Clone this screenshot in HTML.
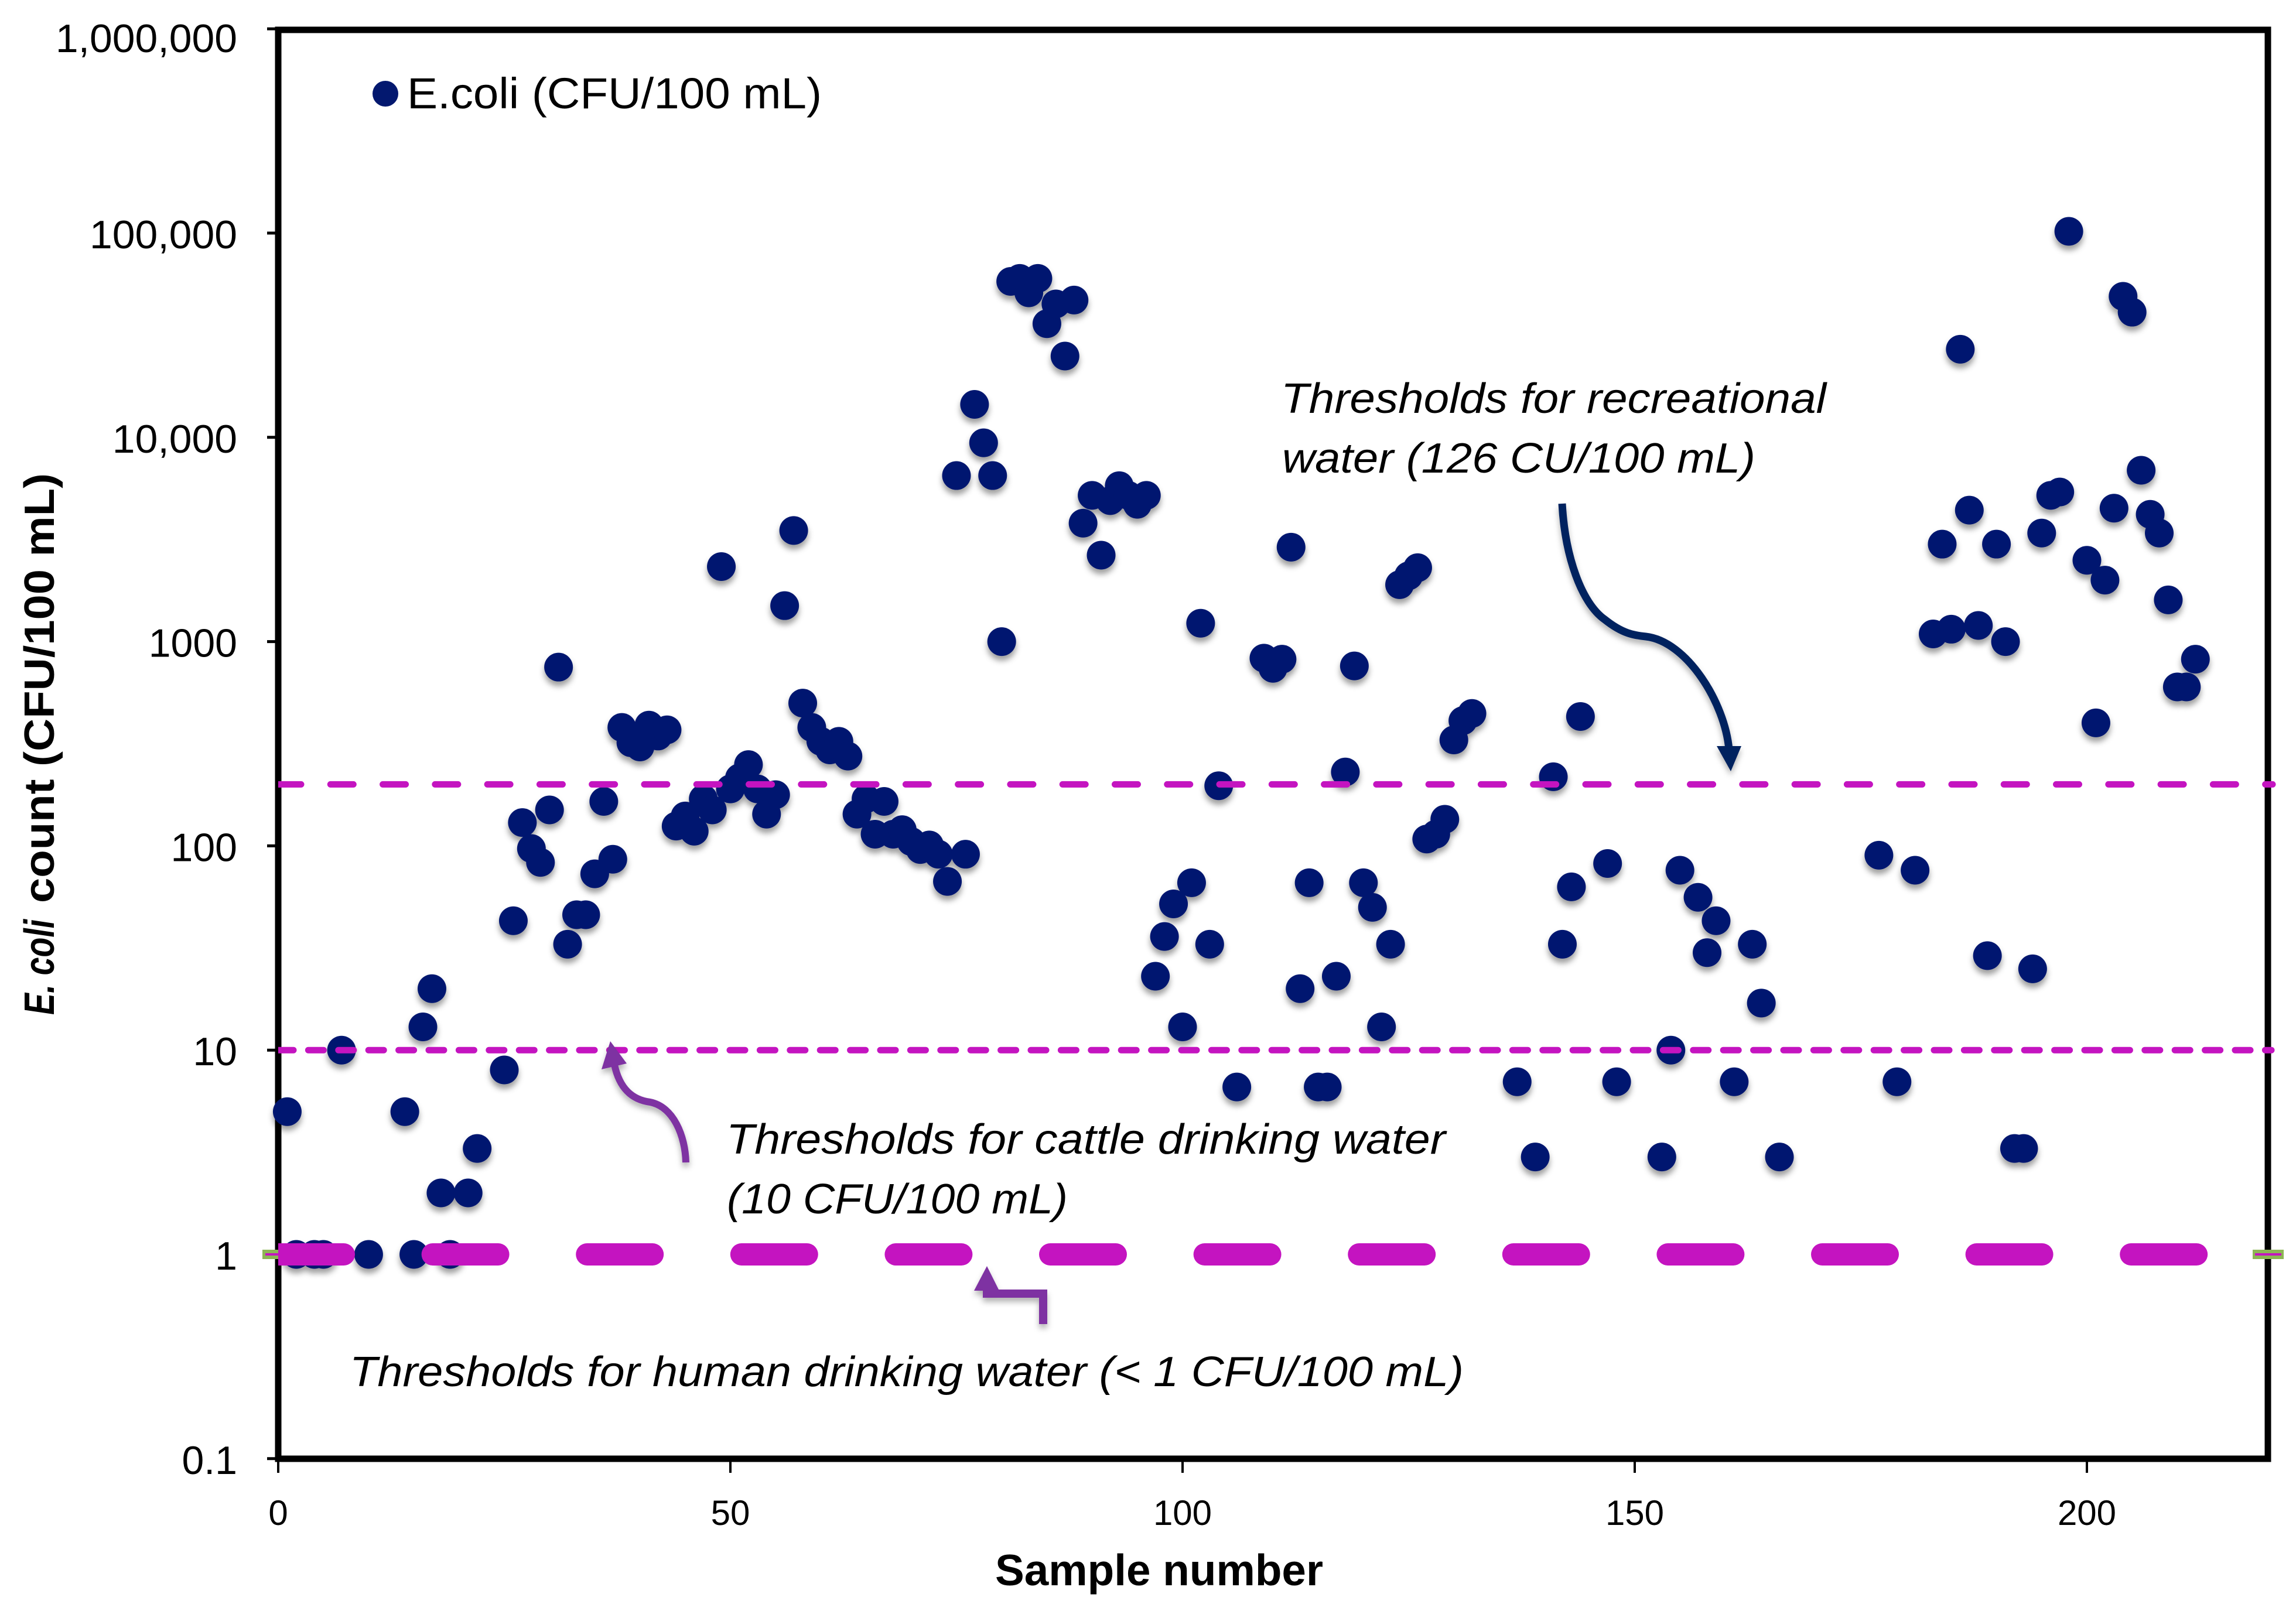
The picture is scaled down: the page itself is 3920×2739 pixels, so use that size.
<!DOCTYPE html>
<html lang="en">
<head>
<meta charset="utf-8">
<title>E. coli count by sample number</title>
<style>
  html, body { margin: 0; padding: 0; background: #fff; }
  body { width: 3920px; height: 2739px; overflow: hidden; }
  svg { display: block; }
  text { font-family: "Liberation Sans", sans-serif; fill: #000; }
</style>
</head>
<body>
<svg id="chart" xmlns="http://www.w3.org/2000/svg" width="3920" height="2739" viewBox="0 0 3920 2739">
  <defs>
    <filter id="dot-shadow" x="-5%" y="-5%" width="110%" height="110%">
      <feDropShadow dx="0" dy="8" stdDeviation="5" flood-color="#000" flood-opacity="0.38"/>
    </filter>
    <filter id="arrow-shadow" x="-30%" y="-30%" width="160%" height="160%">
      <feDropShadow dx="0" dy="7" stdDeviation="5" flood-color="#000" flood-opacity="0.3"/>
    </filter>
    <clipPath id="plot-clip"><rect x="475" y="40" width="3425" height="2460"/></clipPath>
  </defs>
  <rect x="0" y="0" width="3920" height="2739" fill="#fff"/>

  <g id="ticks"></g>
  <rect x="475" y="51" width="3397" height="2440" fill="none" stroke="#000" stroke-width="11"/>
  <g id="tick-labels"></g>

  <g id="points" filter="url(#dot-shadow)"></g>
  <g id="thresholds" clip-path="url(#plot-clip)"></g>

  <g>
    <rect x="448" y="2134" width="27" height="16" fill="#8db654"/>
    <rect x="453" y="2140" width="22" height="4" fill="#c414c0"/>
    <rect x="3846" y="2134" width="53" height="16" fill="#8db654"/>
    <rect x="3850" y="2140" width="45" height="4" fill="#c414c0"/>
  </g>

  <!-- Legend -->
  <circle cx="658" cy="160" r="22" fill="#03186f"/>
  <text x="695" y="185" font-size="74" textLength="708" lengthAdjust="spacingAndGlyphs">E.coli (CFU/100 mL)</text>

  <!-- Axis titles -->
  <g transform="translate(92 0) rotate(-90)">
    <text x="-1733" y="0" font-size="72" font-weight="bold" font-style="italic" textLength="163" lengthAdjust="spacingAndGlyphs">E. coli</text>
    <text x="-1542" y="0" font-size="72" font-weight="bold" textLength="734" lengthAdjust="spacingAndGlyphs">count (CFU/100 mL)</text>
  </g>
  <text x="1699" y="2707" font-size="75" font-weight="bold" textLength="560" lengthAdjust="spacingAndGlyphs">Sample number</text>

  <!-- Annotations -->
  <g font-style="italic" font-size="72">
    <text x="2187" y="705" textLength="931" lengthAdjust="spacingAndGlyphs">Thresholds for recreational</text>
    <text x="2189" y="807" textLength="808" lengthAdjust="spacingAndGlyphs">water (126 CU/100 mL)</text>
    <text x="1240" y="1970" textLength="1228" lengthAdjust="spacingAndGlyphs">Thresholds for cattle drinking water</text>
    <text x="1241" y="2072" textLength="582" lengthAdjust="spacingAndGlyphs">(10 CFU/100 mL)</text>
    <text x="597" y="2367" textLength="1902" lengthAdjust="spacingAndGlyphs">Thresholds for human drinking water (&lt; 1 CFU/100 mL)</text>
  </g>

  <!-- Arrows -->
  <g filter="url(#arrow-shadow)">
    <g>
      <path d="M2667,860 C2672,950 2700,1030 2740,1058 C2770,1082 2790,1085 2810,1087 C2880,1095 2945,1200 2952,1280" fill="none" stroke="#02215f" stroke-width="13"/>
      <polygon points="2931,1274 2973,1274 2955,1317" fill="#02215f"/>
    </g>
    <g>
      <path d="M1171,1985 C1170,1940 1150,1890 1110,1882 C1080,1878 1058,1860 1049,1818" fill="none" stroke="#7e30a2" stroke-width="12"/>
      <polygon points="1042,1778 1027,1826 1070,1816" fill="#7e30a2"/>
    </g>
    <g>
      <path d="M1781,2261 L1781,2209 L1685,2209 L1685,2198" fill="none" stroke="#7e30a2" stroke-width="14"/>
      <polygon points="1685,2162 1663,2204 1706,2204" fill="#7e30a2"/>
    </g>
  </g>
</svg>

<script>
const sampleNumbers = [
  1,2,4,5,7,10,14,15,16,17,18,19,21,22,25,26,27,28,29,30,31,32,33,34,35,36,37,38,39,40,
  41,42,43,44,45,46,47,48,49,50,51,52,53,54,55,56,57,58,59,60,61,62,63,64,65,66,67,68,69,70,
  71,72,73,74,75,76,77,78,79,80,81,82,83,84,85,86,87,88,89,90,91,92,93,94,95,96,97,98,99,100,
  101,102,103,104,106,109,110,111,112,113,114,115,116,117,118,119,120,121,122,123,124,125,126,127,128,129,130,
  131,132,137,139,141,142,143,144,147,148,153,154,155,157,158,159,161,163,164,166,
  177,179,181,183,184,185,186,187,188,189,190,191,192,193,194,195,196,197,198,
  200,201,202,203,204,205,206,207,208,209,210,211,212
];
const ecoliCounts = [
  5,1,1,1,10,1,5,1,13,20,2,1,2,3.3,8,43,130,97,83,150,750,33,46,46,73,165,86,380,320,305,
  390,345,370,125,140,118,170,150,2330,190,215,250,190,143,178,1500,3500,500,380,325,295,325,275,143,170,114,165,114,120,105,
  96,101,91,67,6500,91,14500,9400,6500,1000,58000,60000,51000,60000,36000,45000,25000,47000,3800,5200,2650,4900,5800,5200,4700,5200,23,36,52,13,
  66,1230,33,197,6.6,830,740,820,2900,20,66,6.6,6.6,23,230,760,66,50,13,33,1900,2100,2300,108,114,135,330,
  410,445,7,3,218,33,63,430,82,7,3,10,76,56,30,43,7,33,17,3,
  90,7,76,1090,3000,1150,27000,4400,1200,29,3000,1000,3.3,3.3,25,3400,5200,5400,102000,
  2500,400,2000,4500,49000,41000,6900,4200,3400,1600,600,600,820
];
const yTickValues = [0.1, 1, 10, 100, 1000, 10000, 100000, 1000000];
const yTickLabels = ["0.1", "1", "10", "100", "1000", "10,000", "100,000", "1,000,000"];
const xTickValues = [0, 50, 100, 150, 200];
const xTickLabels = ["0", "50", "100", "150", "200"];
const recreationalThreshold = 200;
const cattleThreshold = 10;
const humanThreshold = 1;

const SVG_NS = "http://www.w3.org/2000/svg";
const xAxisOrigin = 475, xPerSample = 15.44;
const yAxisOrigin = 2142, yPerDecade = 348.8;
function xScale(n) { return xAxisOrigin + xPerSample * n; }
function yScale(v) { return yAxisOrigin - yPerDecade * Math.log10(v); }

const ticksGroup = document.getElementById("ticks");
const labelsGroup = document.getElementById("tick-labels");
const pointsGroup = document.getElementById("points");
const thresholdsGroup = document.getElementById("thresholds");

yTickValues.forEach(function (v, i) {
  const tick = document.createElementNS(SVG_NS, "line");
  tick.setAttribute("x1", 456);
  tick.setAttribute("x2", 475);
  tick.setAttribute("y1", yScale(v));
  tick.setAttribute("y2", yScale(v));
  tick.setAttribute("stroke", "#000");
  tick.setAttribute("stroke-width", 5);
  
  
  ticksGroup.appendChild(tick);

  const label = document.createElementNS(SVG_NS, "text");
  label.setAttribute("x", 405);
  label.setAttribute("y", Math.max(yScale(v) + 2, 65) + 24);
  label.setAttribute("font-size", 68);
  label.setAttribute("text-anchor", "end");
  label.textContent = yTickLabels[i];
  
  
  labelsGroup.appendChild(label);
  if (yTickLabels[i].indexOf(",") >= 0) {
    label.setAttribute("textLength", label.getComputedTextLength() * 1.025);
    label.setAttribute("lengthAdjust", "spacingAndGlyphs");
  }
});

xTickValues.forEach(function (n, i) {
  const tick = document.createElementNS(SVG_NS, "line");
  tick.setAttribute("x1", xScale(n));
  tick.setAttribute("x2", xScale(n));
  tick.setAttribute("y1", 2491);
  tick.setAttribute("y2", 2515);
  tick.setAttribute("stroke", "#000");
  tick.setAttribute("stroke-width", 4);
  
  
  ticksGroup.appendChild(tick);

  const label = document.createElementNS(SVG_NS, "text");
  label.setAttribute("x", xScale(n));
  label.setAttribute("y", 2604);
  label.setAttribute("font-size", 60);
  label.setAttribute("text-anchor", "middle");
  label.textContent = xTickLabels[i];
  
  
  labelsGroup.appendChild(label);
});

sampleNumbers.forEach(function (n, i) {
  const dot = document.createElementNS(SVG_NS, "circle");
  dot.setAttribute("cx", xScale(n));
  dot.setAttribute("cy", yScale(ecoliCounts[i]));
  dot.setAttribute("r", 24.5);
  dot.setAttribute("fill", "#03186f");
  
  
  pointsGroup.appendChild(dot);
});

function drawThreshold(value, width, dash, gap, endX, name) {
  const line = document.createElementNS(SVG_NS, "line");
  line.setAttribute("x1", xAxisOrigin);
  line.setAttribute("x2", endX);
  line.setAttribute("y1", yScale(value));
  line.setAttribute("y2", yScale(value));
  line.setAttribute("stroke", "#c414c0");
  line.setAttribute("stroke-width", width);
  line.setAttribute("stroke-linecap", "round");
  line.setAttribute("stroke-dasharray", dash + " " + gap);
  
  
  thresholdsGroup.appendChild(line);
}
drawThreshold(recreationalThreshold, 11, 39, 50.28, 3880, 'recreational-threshold-line');
drawThreshold(cattleThreshold, 11, 26, 25.4, 3878, 'cattle-threshold-line');
drawThreshold(humanThreshold, 38, 112, 151.6, 3780, 'human-threshold-line');
</script>
</body>
</html>
